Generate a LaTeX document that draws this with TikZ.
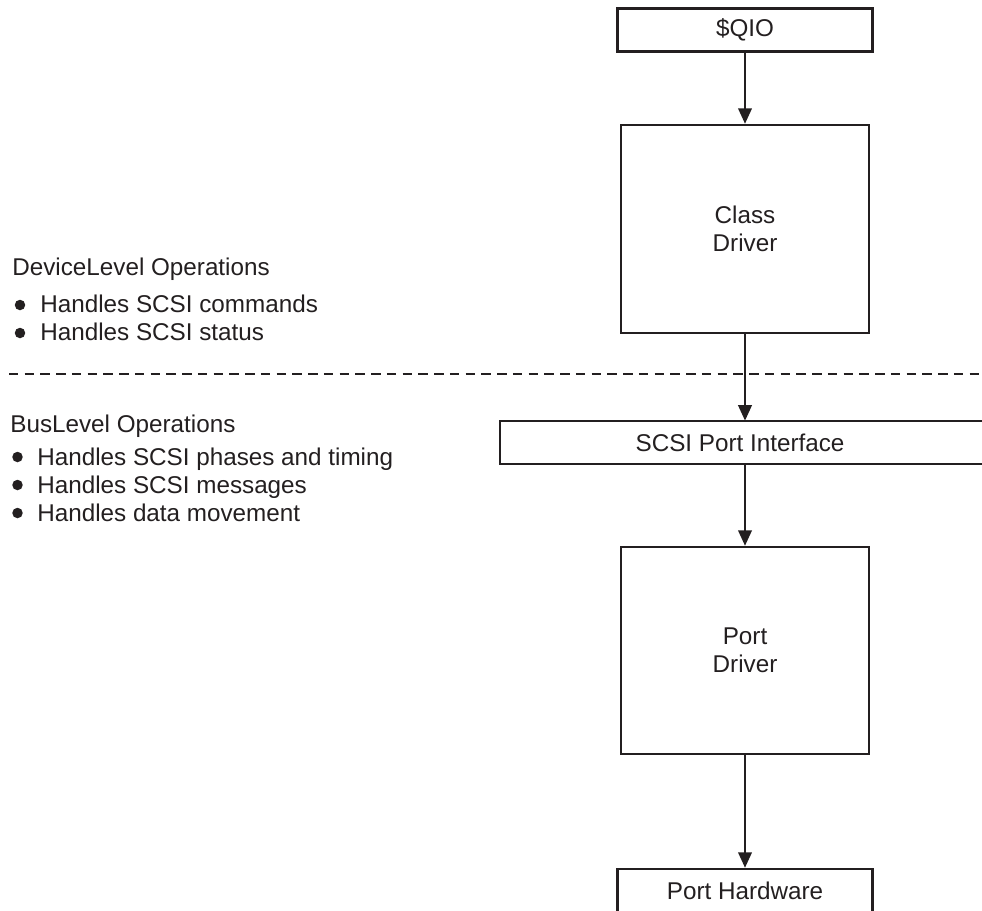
\documentclass[tikz,border=0pt]{standalone}
\usepackage{fontspec}
\setmainfont{Liberation Sans}
\usetikzlibrary{arrows.meta}
\definecolor{ink}{RGB}{35,31,32}
\begin{document}
\begin{tikzpicture}[x=0.02cm, y=-0.02cm, color=ink, font=\fontsize{13.8}{16}\selectfont,
    block/.style={draw=ink, line width=1.4pt, inner sep=0pt, align=center},
    flow/.style={draw=ink, line width=1.3pt, -{Triangle[length=0.31cm, width=0.27cm]}},
    note/.style={anchor=base west, inner sep=0pt}]
  \clip (0,0) rectangle (982,910);
  % driver stack
  \node[block, minimum width=5.1cm, minimum height=0.86cm] (qio) at (745,30) {\$QIO};
  \node[block, minimum width=4.96cm, minimum height=4.16cm] (cls) at (745,229) {Class\\Driver};
  \node[inner sep=0pt, minimum height=0.86cm] (spi) at (740,442.5) {SCSI Port Interface};
  \draw[line width=1.4pt] (990,421) -| (500,464) -- (990,464);
  \node[block, minimum width=4.96cm, minimum height=4.14cm] (prt) at (745,650.5) {Port\\Driver};
  \node[block, minimum width=5.1cm, minimum height=0.86cm] (hw) at (745,890.5) {Port Hardware};
  \draw[flow] (qio) -- (cls);
  \draw[flow] (cls) -- (cls |- spi.north);
  \draw[flow] (cls |- spi.south) -- (prt);
  \draw[flow] (prt) -- (hw);
  % level divider
  \draw[line width=1.4pt, dash pattern=on 0.19cm off 0.125cm] (9,374) -- (982,374);
  % device level
  \node[note] (devhead) at (12,275) {DeviceLevel Operations};
  \foreach \txt/\yy [count=\k] in {Handles SCSI commands/312, Handles SCSI status/340} {
    \fill (20,\yy-7) circle (0.105cm);
    \node[note] (dev\k) at (40,\yy) {\txt};
  }
  % bus level
  \node[note] (bushead) at (10,432) {BusLevel Operations};
  \foreach \txt/\yy [count=\k] in {Handles SCSI phases and timing/465, Handles SCSI messages/493, Handles data movement/521} {
    \fill (17.5,\yy-8) circle (0.105cm);
    \node[note] (bus\k) at (37,\yy) {\txt};
  }
\end{tikzpicture}
\end{document}
